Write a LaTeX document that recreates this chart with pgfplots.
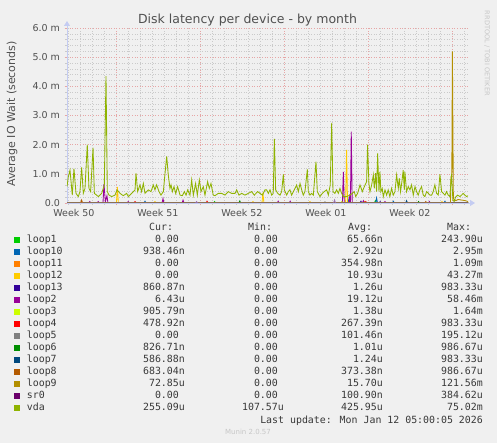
\documentclass[border=0pt]{standalone}
\usepackage{pgfplots}
\pgfplotsset{compat=1.18}
\usepackage{fontspec}
\setmainfont{DejaVu Sans}
\newfontfamily\monofont{DejaVu Sans Mono}
\usetikzlibrary{arrows.meta}

\definecolor{bgc}{HTML}{F0F0F0}
\definecolor{mgridc}{HTML}{E6A6A6}
\definecolor{gridc}{HTML}{CACACA}
\definecolor{axc}{HTML}{C4CCF2}
\definecolor{tickc}{HTML}{505050}
\definecolor{legc}{HTML}{383838}
\definecolor{cloopA}{HTML}{00CC00}
\definecolor{cloopJ}{HTML}{0066B3}
\definecolor{cloopK}{HTML}{FF8000}
\definecolor{cloopL}{HTML}{FFCC00}
\definecolor{cloopM}{HTML}{330099}
\definecolor{cloopB}{HTML}{990099}
\definecolor{cloopC}{HTML}{CCFF00}
\definecolor{cloopD}{HTML}{FF0000}
\definecolor{cloopE}{HTML}{808080}
\definecolor{cloopF}{HTML}{008F00}
\definecolor{cloopG}{HTML}{00487D}
\definecolor{cloopH}{HTML}{B35A00}
\definecolor{cloopI}{HTML}{B38F00}
\definecolor{csr}{HTML}{6B006B}
\definecolor{csrline}{HTML}{9A70B4}
\definecolor{cvda}{HTML}{8FB300}

% one legend row: index, colour, name, cur, min, avg, max
\newcommand\legrow[7]{%
  \pgfmathsetmacro\yy{200.3-12*#1}%
  \node[anchor=base west, inner sep=0] at (14pt,\yy pt) {\textcolor{#2}{\rule{6pt}{6pt}}};
  \node[anchor=base west, inner sep=0, text=legc] at (26.7pt,\yy pt) {\monofont\fontsize{9.9}{12}\selectfont #3};
  \node[anchor=base east, inner sep=0, text=legc] at (185pt,\yy pt) {\monofont\fontsize{9.9}{12}\selectfont #4};
  \node[anchor=base east, inner sep=0, text=legc] at (284pt,\yy pt) {\monofont\fontsize{9.9}{12}\selectfont #5};
  \node[anchor=base east, inner sep=0, text=legc] at (383pt,\yy pt) {\monofont\fontsize{9.9}{12}\selectfont #6};
  \node[anchor=base east, inner sep=0, text=legc] at (483pt,\yy pt) {\monofont\fontsize{9.9}{12}\selectfont #7};
}
\newcommand\np{\phantom{0}}

\begin{document}
\begin{tikzpicture}
\fill[bgc] (0pt,0pt) rectangle (497pt,443pt);
\useasboundingbox (0pt,0pt) rectangle (497pt,443pt);

\begin{axis}[
  at={(67pt,240pt)}, anchor=south west,
  scale only axis, width=401pt, height=175pt,
  xmin=0, xmax=33.42, ymin=0, ymax=6,
  axis x line=bottom, axis y line=left,
  axis line style={draw=axc, line width=0.9pt},
  x axis line style={-{Triangle[width=6pt,length=5pt]}, shorten >=-7pt},
  y axis line style={-{Triangle[width=6pt,length=5pt]}, shorten >=-7pt},
  xtick={4.08,11.08,18.08,25.08,32.08},
  xticklabels={},
  minor xtick={0.08,1.08,...,33.08},
  extra x ticks={0.58,7.58,14.58,21.58,28.58},
  extra x tick labels={Week 50,Week 51,Week 52,Week 01,Week 02},
  extra x tick style={grid=none, major tick length=0pt},
  ytick={0,1,2,3,4,5,6},
  yticklabels={0.0,1.0 m,2.0 m,3.0 m,4.0 m,5.0 m,6.0 m},
  minor y tick num=4,
  grid=both,
  major grid style={color=mgridc, line width=0.6pt, dash pattern=on 0.7pt off 1.9pt},
  minor grid style={color=gridc, line width=0.6pt, dash pattern=on 0.7pt off 1.9pt},
  tick align=outside,
  major tick length=2.5pt, minor tick length=2pt,
  major tick style={color=mgridc, line width=0.6pt},
  minor tick style={color=gridc, line width=0.6pt},
  tick label style={font=\fontsize{9.5}{11}\selectfont, text=tickc},
  yticklabel style={xshift=-1pt},
  xticklabel style={yshift=-2.5pt},
  every axis plot/.append style={line width=0.85pt, no markers, sharp plot},
]
% loop1
\addplot[cloopA] coordinates {(0,0)(12.22,0)(12.3,0.05)(12.38,0)(25.62,0)(25.7,0.08)(25.78,0)(33.42,0)};
% loop10
\addplot[cloopJ] coordinates {(0,0)(6.42,0)(6.5,0.06)(6.58,0)(23.42,0)(23.5,0.15)(23.58,0)(25.72,0)(25.8,0.17)(25.88,0)(27.12,0)(27.2,0.06)(27.28,0)(31.42,0)(31.5,0.06)(31.58,0)(33.42,0)};
% loop11
\addplot[cloopK] coordinates {(0,0)(1.12,0)(1.2,0.06)(1.28,0)(24.72,0)(24.8,0.05)(24.88,0)(33.42,0)};
% loop12
\addplot[cloopL] coordinates {(0,0)(4.12,0)(4.2,0.55)(4.28,0)(7.25,0)(7.33,0.05)(7.41,0)(15.42,0)(15.5,0.05)(15.58,0)(16.25,0)(16.33,0.35)(16.41,0)(20.17,0)(20.25,0.05)(20.33,0)(23.22,0)(23.3,1.82)(23.38,0)(31.17,0)(31.25,0.05)(31.33,0)(33.42,0)};
% loop13
\addplot[cloopM] coordinates {(0,0)(24.42,0)(24.5,0.06)(24.58,0)(26.02,0)(26.1,0.05)(26.18,0)(33.42,0)};
% loop2
\addplot[cloopB] coordinates {(0,0)(1.82,0)(1.9,0.05)(1.98,0)(2.52,0)(2.6,0.05)(2.68,0)(3.0,0)(3.08,0.65)(3.2,0.05)(3.33,0.25)(3.41,0)(5.02,0)(5.1,0.05)(5.18,0)(7.92,0)(8.0,0.15)(8.08,0)(9.59,0)(9.67,0.1)(9.75,0)(17.52,0)(17.6,0.06)(17.68,0)(18.52,0)(18.6,0.06)(18.68,0)(22.95,0)(23.03,1.07)(23.11,0)(23.5,0)(23.58,0.3)(23.62,0)(23.69,2.45)(23.77,0)(24.62,0)(24.7,0.08)(24.78,0)(26.42,0)(26.5,0.05)(26.58,0)(30.12,0)(30.2,0.05)(30.28,0)(33.42,0)};
% loop3
\addplot[cloopC] coordinates {(0,0)(22.82,0)(22.9,0.05)(22.98,0)(33.42,0)};
% loop4
\addplot[cloopD] coordinates {(0,0)(5.59,0)(5.67,0.05)(5.75,0)(11.59,0)(11.67,0.06)(11.75,0)(24.82,0)(24.9,0.05)(24.98,0)(33.42,0)};
% loop5
\addplot[cloopE] coordinates {(0,0)(21.42,0)(21.5,0.04)(21.58,0)(33.42,0)};
% loop6
\addplot[cloopF] coordinates {(0,0)(14.32,0)(14.4,0.07)(14.48,0)(29.22,0)(29.3,0.05)(29.38,0)(33.42,0)};
% loop7
\addplot[cloopG] coordinates {(0,0)(28.22,0)(28.3,0.08)(28.38,0)(33.42,0)};
% loop8
\addplot[cloopH] coordinates {(0,0)(1.14,0)(1.22,0.1)(1.3,0)(29.82,0)(29.9,0.05)(29.98,0)(33.42,0)};
% loop9
\addplot[cloopI] coordinates {(0,0)(31.96,0)(32.0,0.9)(32.07,0.9)(32.12,5.2)(32.2,0.15)(32.4,0.08)(32.6,0.12)(32.9,0.1)(33.2,0.08)(33.42,0.05)};
% sr0
\addplot[csrline] coordinates {(0,0)(10.72,0)(10.8,0.05)(10.88,0)(22.22,0)(22.3,0.1)(22.38,0)(33.42,0)};
% vda
\addplot[cvda] coordinates {
(0,0.56)(0.11,0.90)(0.25,1.13)(0.44,0.27)(0.58,1.18)(0.75,0.33)(0.94,0.22)(1.08,0.39)
(1.22,1.22)(1.36,0.33)(1.5,0.50)(1.69,2.0)(1.83,0.50)(1.97,0.39)(2.17,1.9)(2.28,0.33)
(2.47,0.27)(2.61,0.22)(2.89,0.33)(3.11,0.62)(3.25,4.35)(3.36,0.39)(3.5,0.27)(3.72,0.22)
(4.0,0.27)(4.17,0.45)(4.42,0.33)(4.69,0.25)(4.97,0.33)(5.11,0.22)(5.39,0.33)(5.67,0.45)
(5.75,1.02)(5.89,0.39)(6.08,0.62)(6.22,0.39)(6.36,0.67)(6.5,0.33)(6.78,0.45)(7.0,0.39)
(7.19,0.62)(7.33,0.45)(7.47,0.62)(7.67,0.39)(7.83,0.27)(8.03,0.39)(8.17,1.02)(8.31,1.6)
(8.44,0.96)(8.58,0.50)(8.67,0.62)(8.78,0.39)(8.92,0.56)(9.06,0.33)(9.22,0.56)(9.42,0.27)
(9.61,0.25)(9.78,0.39)(9.92,0.27)(10.06,0.45)(10.25,0.27)(10.39,0.79)(10.53,0.27)(10.72,0.67)
(10.86,0.27)(11.03,0.79)(11.17,0.39)(11.36,0.56)(11.5,0.27)(11.72,0.73)(11.86,0.50)(12.0,0.67)
(12.19,0.27)(12.33,0.25)(12.61,0.33)(12.89,0.33)(13.17,0.27)(13.44,0.39)(13.72,0.33)(14.0,0.33)
(14.14,0.45)(14.33,0.27)(14.56,0.33)(14.83,0.27)(15.11,0.33)(15.39,0.39)(15.61,0.27)(15.89,0.39)
(16.08,0.33)(16.28,0.27)(16.5,0.45)(16.64,0.45)(16.78,0.33)(16.92,0.45)(17.06,0.27)(17.19,0.33)
(17.28,2.2)(17.39,0.45)(17.56,0.33)(17.75,0.27)(17.89,0.39)(18.03,0.98)(18.11,0.45)(18.31,0.27)
(18.44,0.39)(18.58,0.45)(18.72,0.27)(18.94,0.45)(19.14,0.62)(19.28,0.39)(19.42,0.67)(19.56,0.45)
(19.69,0.27)(19.83,0.39)(20.03,1.15)(20.11,0.39)(20.25,0.27)(20.39,0.33)(20.53,0.27)(20.75,1.42)
(20.86,0.39)(21.08,0.22)(21.28,0.33)(21.44,0.39)(21.64,0.45)(21.78,0.27)(21.94,0.62)(22.06,2.75)
(22.17,0.39)(22.33,0.33)(22.47,0.45)(22.61,0.33)(22.75,0.50)(22.89,0.33)(23.03,0.22)(23.31,0.22)
(23.58,0.27)(23.78,0.33)(23.94,0.39)(24.06,0.22)(24.22,0.33)(24.42,0.62)(24.61,0.39)(24.78,0.56)
(24.97,0.73)(25.05,2.0)(25.16,0.67)(25.25,0.39)(25.39,0.62)(25.53,0.96)(25.61,0.50)(25.72,1.02)
(25.8,0.39)(25.89,1.7)(26.0,0.39)(26.08,1.07)(26.16,0.39)(26.27,0.50)(26.36,0.22)(26.5,0.45)
(26.64,0.27)(26.77,0.45)(26.91,0.22)(27.05,0.50)(27.19,0.27)(27.33,0.39)(27.47,0.96)(27.61,0.50)
(27.69,0.85)(27.8,0.39)(27.91,0.73)(28.02,1.13)(28.11,0.45)(28.16,1.07)(28.3,0.39)(28.44,0.56)
(28.58,0.45)(28.72,0.62)(28.86,0.27)(29.0,0.56)(29.14,0.39)(29.27,0.27)(29.41,0.45)(29.55,0.56)
(29.69,0.27)(29.83,0.22)(29.97,0.39)(30.11,0.33)(30.25,0.27)(30.39,0.27)(30.52,0.39)(30.66,0.62)
(30.8,0.33)(30.94,0.27)(31.08,0.98)(31.22,0.39)(31.36,0.33)(31.5,0.27)(31.63,0.39)(31.77,0.27)
(31.91,0.22)(32.05,1.0)(32.16,0.1)(32.27,0.05)(32.38,0.2)(32.55,0.27)(32.75,0.22)(32.88,0.27)
(33.02,0.33)(33.16,0.27)(33.3,0.22)(33.42,0.25)
};
\end{axis}

% title, axis label, watermark
\node[anchor=base, inner sep=0, text=tickc] at (247.5pt,419pt) {\fontsize{12.5}{14}\selectfont Disk latency per device - by month};
\node[anchor=base, inner sep=0, rotate=90, text=tickc] at (15pt,329pt) {\fontsize{11}{13}\selectfont Average IO Wait (seconds)};
\node[anchor=center, inner sep=0, rotate=-90, text=black!22] at (487pt,389.5pt) {\fontsize{6.6}{8}\selectfont RRDTOOL / TOBI OETIKER};

% legend
\foreach \h/\xx in {Cur:/149, Min:/248, Avg:/348, Max:/447}
  \node[anchor=base west, inner sep=0, text=legc] at (\xx pt,212.3pt) {\monofont\fontsize{9.9}{12}\selectfont \h};
\legrow{0}{cloopA}{loop1}{0.00\np}{0.00\np}{65.66n}{243.90u}
\legrow{1}{cloopJ}{loop10}{938.46n}{0.00\np}{2.92u}{2.95m}
\legrow{2}{cloopK}{loop11}{0.00\np}{0.00\np}{354.98n}{1.09m}
\legrow{3}{cloopL}{loop12}{0.00\np}{0.00\np}{10.93u}{43.27m}
\legrow{4}{cloopM}{loop13}{860.87n}{0.00\np}{1.26u}{983.33u}
\legrow{5}{cloopB}{loop2}{6.43u}{0.00\np}{19.12u}{58.46m}
\legrow{6}{cloopC}{loop3}{905.79n}{0.00\np}{1.38u}{1.64m}
\legrow{7}{cloopD}{loop4}{478.92n}{0.00\np}{267.39n}{983.33u}
\legrow{8}{cloopE}{loop5}{0.00\np}{0.00\np}{101.46n}{195.12u}
\legrow{9}{cloopF}{loop6}{826.71n}{0.00\np}{1.01u}{986.67u}
\legrow{10}{cloopG}{loop7}{586.88n}{0.00\np}{1.24u}{983.33u}
\legrow{11}{cloopH}{loop8}{683.04n}{0.00\np}{373.38n}{986.67u}
\legrow{12}{cloopI}{loop9}{72.85u}{0.00\np}{15.70u}{121.56m}
\legrow{13}{csr}{sr0}{0.00\np}{0.00\np}{100.90n}{384.62u}
\legrow{14}{cvda}{vda}{255.09u}{107.57u}{425.95u}{75.02m}
\node[anchor=base east, inner sep=0, text=legc] at (483pt,19.7pt) {\monofont\fontsize{9.9}{12}\selectfont Last update: Mon Jan 12 05:00:05 2026};
\node[anchor=base, inner sep=0, text=black!22] at (248pt,8pt) {\fontsize{7}{8}\selectfont Munin 2.0.57};
\end{tikzpicture}
\end{document}
